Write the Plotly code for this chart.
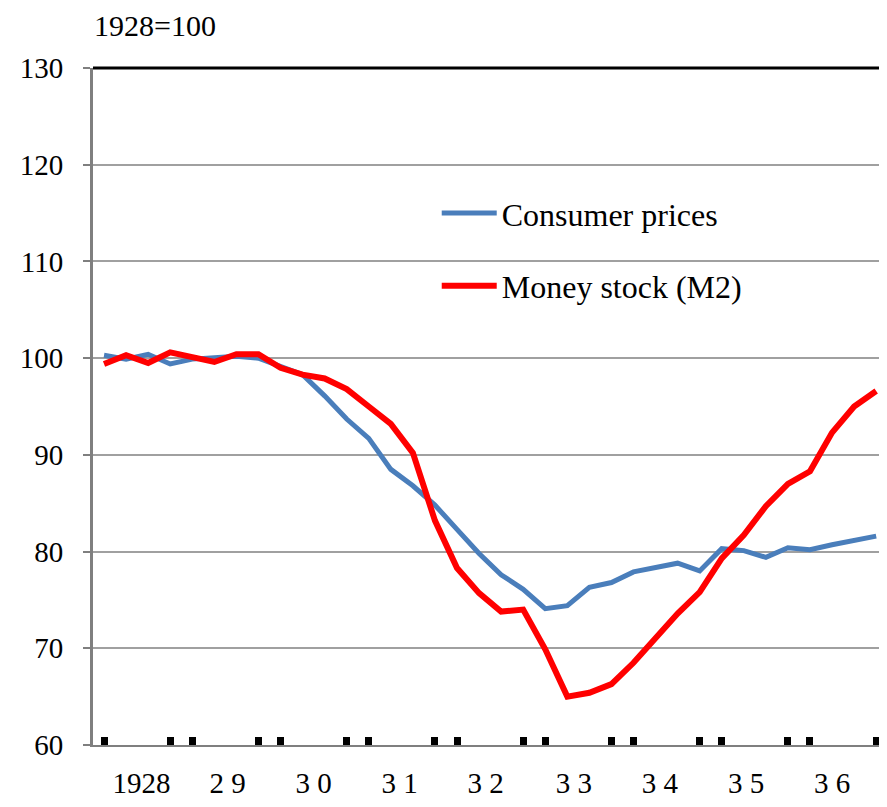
import plotly.graph_objs as go

# quarterly index, 1928 Q1 .. 1936 Q4
quarters = list(range(36))

consumer_prices = [100.3, 99.9, 100.4, 99.4, 99.9, 100.1, 100.2, 100.0,
                   99.2, 98.3, 96.1, 93.7, 91.7, 88.5, 86.8, 84.8,
                   82.3, 79.8, 77.6, 76.1, 74.1, 74.4, 76.3, 76.8,
                   77.9, 78.3, 78.8, 78.0, 80.3, 80.1, 79.4, 80.4,
                   80.2, 80.7, 81.2, 81.6]

money_stock = [99.4, 100.3, 99.5, 100.6, 100.1, 99.6, 100.4, 100.4,
               99.0, 98.3, 97.9, 96.8, 95.0, 93.2, 90.2, 83.2,
               78.3, 75.7, 73.8, 74.0, 69.9, 65.0, 65.4, 66.3,
               68.5, 71.0, 73.6, 75.8, 79.3, 81.7, 84.7, 87.0,
               88.3, 92.3, 95.0, 96.6]

# year boundary marks (Q4 / Q1 pairs)
tick_quarters = [0, 3, 4, 7, 8, 11, 12, 15, 16, 19, 20, 23, 24, 27, 28, 31, 32, 35]

year_labels = ['1928', '2 9', '3 0', '3 1', '3 2', '3 3', '3 4', '3 5', '3 6']
year_label_pos = [1.7, 5.6, 9.5, 13.4, 17.3, 21.3, 25.2, 29.1, 33.0]

FONT = 'Liberation Serif'
x_range = [-0.5, 35.4]

fig = go.Figure()

fig.add_trace(go.Scatter(
    x=quarters, y=consumer_prices, mode='lines',
    name='Consumer prices', legendgroup='cp',
    line=dict(color='#4a7ebb', width=5)
))
fig.add_trace(go.Scatter(
    x=quarters, y=money_stock, mode='lines',
    name='Money stock (M2)', legendgroup='m2',
    line=dict(color='#ff0000', width=6)
))

# page body has an 8px margin, so the figure is a bit smaller than the window
fig.update_layout(
    width=879, height=799,
    margin=dict(l=85, r=2, t=60, b=62),
    paper_bgcolor='white', plot_bgcolor='white',
    font=dict(family=FONT, size=29, color='black'),
    showlegend=True,
    legend=dict(
        x=0.434, y=0.826, xanchor='left', yanchor='top',
        bgcolor='rgba(0,0,0,0)', tracegroupgap=28, itemwidth=55,
        font=dict(family=FONT, size=32),
    ),
    xaxis=dict(
        range=x_range, showgrid=False, zeroline=False,
        tickvals=tick_quarters, showticklabels=False,
        ticks='inside', ticklen=8, tickwidth=7, tickcolor='black',
        showline=True, linecolor='#7f7f7f', linewidth=2,
    ),
    xaxis2=dict(
        range=x_range, overlaying='x', side='bottom', anchor='y',
        showgrid=False, zeroline=False, showline=False, ticks='',
        tickvals=year_label_pos, ticktext=year_labels,
        ticklabelstandoff=18,
        tickfont=dict(family=FONT, size=29),
    ),
    yaxis=dict(
        range=[60, 130], dtick=10, tick0=60,
        showgrid=True, gridcolor='#a0a0a0', gridwidth=2, zeroline=False,
        showline=True, linecolor='#7f7f7f', linewidth=3,
        ticks='outside', ticklen=7, tickcolor='#7f7f7f', tickwidth=2,
        ticklabelstandoff=14,
        tickfont=dict(family=FONT, size=29),
    ),
)

# dummy trace so the label axis gets drawn
fig.add_trace(go.Scatter(x=[None], y=[None], xaxis='x2', showlegend=False, hoverinfo='skip'))

# black frame on top and right
fig.add_shape(type='line', xref='paper', yref='paper', x0=0, x1=1, y0=1, y1=1,
              line=dict(color='black', width=3))
fig.add_shape(type='line', xref='paper', yref='paper', x0=1, x1=1, y0=0, y1=1,
              line=dict(color='black', width=3))

fig.add_annotation(
    text='1928=100', xref='paper', yref='paper', x=0.0, y=1.063,
    xanchor='left', yanchor='middle', showarrow=False, borderpad=0,
    font=dict(family=FONT, size=30),
)

fig.write_html("out.html")
